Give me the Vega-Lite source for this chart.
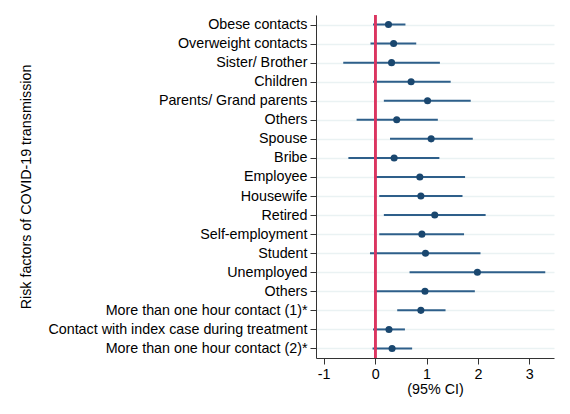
{
  "$schema": "https://vega.github.io/schema/vega-lite/v6.json",
  "autosize": "none",
  "padding": {"left": 316, "top": 15, "right": 16, "bottom": 56},
  "width": 238,
  "height": 343,
  "background": "white",
  "config": {
    "view": {"stroke": null},
    "font": "Liberation Sans",
    "axis": {"labelFont": "Liberation Sans", "titleFont": "Liberation Sans", "labelFontSize": 14.3, "titleFontSize": 14.3, "titleFontWeight": "normal", "labelColor": "black", "titleColor": "black", "domainColor": "#333333", "tickColor": "#333333", "tickSize": 6, "labelLimit": 0}
  },
  "data": {"values": [
    {"key": "Obese contacts", "or": 0.26, "lo": -0.04, "hi": 0.59},
    {"key": "Overweight contacts", "or": 0.36, "lo": -0.09, "hi": 0.80},
    {"key": "Sister/ Brother", "or": 0.32, "lo": -0.62, "hi": 1.26},
    {"key": "Children\u00a0", "or": 0.70, "lo": -0.04, "hi": 1.47},
    {"key": "Parents/ Grand parents", "or": 1.02, "lo": 0.17, "hi": 1.86},
    {"key": "Others", "or": 0.42, "lo": -0.36, "hi": 1.22},
    {"key": "Spouse", "or": 1.09, "lo": 0.29, "hi": 1.90},
    {"key": "Bribe", "or": 0.37, "lo": -0.52, "hi": 1.25},
    {"key": "Employee", "or": 0.87, "lo": 0.01, "hi": 1.75},
    {"key": "Housewife", "or": 0.89, "lo": 0.08, "hi": 1.70},
    {"key": "Retired", "or": 1.16, "lo": 0.17, "hi": 2.15},
    {"key": "Self-employment", "or": 0.91, "lo": 0.08, "hi": 1.73},
    {"key": "Student", "or": 0.98, "lo": -0.10, "hi": 2.05},
    {"key": "Unemployed", "or": 1.99, "lo": 0.67, "hi": 3.31},
    {"key": "Others_2", "or": 0.97, "lo": 0.01, "hi": 1.94},
    {"key": "More than one hour contact (1)*", "or": 0.89, "lo": 0.43, "hi": 1.37},
    {"key": "Contact with index case during treatment", "or": 0.27, "lo": -0.04, "hi": 0.58},
    {"key": "More than one hour contact (2)*", "or": 0.33, "lo": -0.05, "hi": 0.72}
  ]},
  "layer": [
    {
      "mark": {"type": "rule", "color": "#2e5f8a", "strokeWidth": 2},
      "encoding": {
        "y": {
          "field": "key", "type": "nominal", "sort": null,
          "scale": {"type": "point", "padding": 0.5},
          "axis": {
            "title": "Risk factors of COVID-19 transmission",
            "titleX": -286,
            "titleBaseline": "alphabetic",
            "labelPadding": 3,
            "grid": true, "gridColor": "#eaf2f3", "gridWidth": 1.5,
            "labelExpr": "datum.value == 'Others_2' ? 'Others' : datum.value"
          }
        },
        "x": {"field": "lo", "type": "quantitative",
          "scale": {"domain": [-1.15, 3.48], "nice": false, "zero": false},
          "axis": {"title": "(95% CI)", "values": [-1, 0, 1, 2, 3], "grid": false, "titlePadding": 1, "labelPadding": 3, "labelFlush": false,
            "labelExpr": "datum.value < 0 ? '-' + abs(datum.value) : '' + datum.value"}},
        "x2": {"field": "hi"}
      }
    },
    {
      "mark": {"type": "rule", "color": "#dc3560", "strokeWidth": 2},
      "encoding": {"x": {"datum": 0}}
    },
    {
      "mark": {"type": "point", "filled": true, "color": "#1a476f", "opacity": 1, "size": 50},
      "encoding": {
        "x": {"field": "or", "type": "quantitative"},
        "y": {"field": "key", "type": "nominal", "sort": null}
      }
    }
  ]
}
